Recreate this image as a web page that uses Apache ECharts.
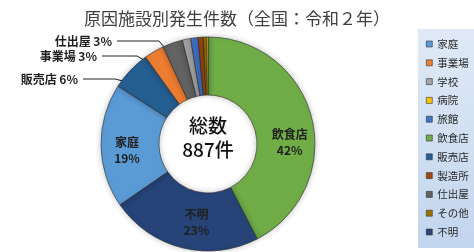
<!DOCTYPE html>
<html>
<head>
<meta charset="utf-8">
<script src="https://cdn.jsdelivr.net/npm/echarts@6/dist/echarts.min.js"></script>
<style>
  html, body { margin: 0; padding: 0; background: #fff; }
  #chart { width: 474px; height: 252px; }
</style>
</head>
<body>
<div id="chart"></div>
<script>
// 原因施設別発生件数（令和2年）
const facilities = ['飲食店', '不明', '家庭', '販売店', '事業場', '仕出屋', '学校', '旅館', '製造所', 'その他', '病院']
const counts = [376, 204, 166, 53, 27, 27, 11, 10, 7, 4, 2]
const legendOrder = ['家庭', '事業場', '学校', '病院', '旅館', '飲食店', '販売店', '製造所', '仕出屋', 'その他', '不明']
const insideLabels = ['飲食店', '不明', '家庭']
const outsideLabels = ['販売店', '事業場', '仕出屋']

const colors = {
  '家庭': '#5b9bd5',
  '事業場': '#ed7d31',
  '学校': '#a5a5a5',
  '病院': '#ffc000',
  '旅館': '#4472c4',
  '飲食店': '#70ad47',
  '販売店': '#255e91',
  '製造所': '#9e480e',
  '仕出屋': '#636363',
  'その他': '#997300',
  '不明': '#264478'
}

// label placement tweaks (layout only)
const insideShift = { '飲食店': [3, 18], '不明': [8, 0], '家庭': [0, 5] }
const outsidePos = {
  '販売店': { x: 78, y: 79, line: 32 },
  '事業場': { x: 97, y: 56, line: 35 },
  '仕出屋': { x: 112, y: 41, line: 42 }
}

const total = counts.reduce((a, b) => a + b, 0)
const font = '"Noto Sans CJK JP", "Noto Sans", sans-serif'
const pieCenter = [208, 144]

const chart = echarts.init(document.getElementById('chart'), null, { renderer: 'canvas' })

const mainData = facilities.map((name, i) => ({
  name: name,
  value: counts[i],
  itemStyle: { color: colors[name] },
  label: { show: insideLabels.includes(name) }
}))
const helperData = facilities.map((name, i) => ({
  name: name,
  value: counts[i],
  label: { show: outsideLabels.includes(name) },
  labelLine: { show: outsideLabels.includes(name) }
}))

const option = {
  animation: false,
  textStyle: { fontFamily: font },
  title: {
    text: '原因施設別発生件数（全国：令和２年）',
    left: 232,
    textAlign: 'center',
    top: 5,
    textStyle: { fontSize: 17, fontWeight: 'normal', color: '#404040', fontFamily: font }
  },
  legend: {
    orient: 'vertical',
    left: 418,
    top: 29,
    data: legendOrder,
    icon: 'rect',
    itemWidth: 6,
    itemHeight: 6,
    itemGap: 6.8,
    padding: [9, 7, 10, 8],
    backgroundColor: {
      type: 'linear', x: 0, y: 0, x2: 0, y2: 1,
      colorStops: [{ offset: 0, color: '#e0eaf6' }, { offset: 1, color: '#c2d5ee' }]
    },
    itemStyle: { borderColor: '#333', borderWidth: 0.6 },
    textStyle: { fontSize: 10.5, lineHeight: 12, color: '#2a2a2a', fontFamily: font },
    selectedMode: false
  },
  graphic: [{
    type: 'text',
    x: pieCenter[0],
    y: pieCenter[1] - 6,
    style: {
      text: '総数\n' + total + '件',
      textAlign: 'center',
      textVerticalAlign: 'middle',
      fontSize: 19,
      lineHeight: 24,
      fontWeight: 500,
      fill: '#111',
      fontFamily: font
    },
    z: 100
  }],
  series: [{
    name: '原因施設',
    type: 'pie',
    center: pieCenter,
    radius: [49, 107],
    startAngle: 90,
    clockwise: true,
    avoidLabelOverlap: false,
    data: mainData,
    itemStyle: {
      borderColor: '#2a2a2a',
      borderWidth: 0.6,
      shadowBlur: 6,
      shadowColor: 'rgba(0,0,0,0.25)'
    },
    label: {
      position: 'inside',
      formatter: p => p.name + '\n' + Math.round(p.percent) + '%',
      fontSize: 12,
      lineHeight: 16,
      fontWeight: 'bold',
      color: '#1f1f1f',
      fontFamily: font
    },
    labelLine: { show: false },
    labelLayout: function (params) {
      const s = insideShift[facilities[params.dataIndex]]
      return s ? { dx: s[0], dy: s[1] } : {}
    },
    emphasis: { disabled: true }
  }, {
    name: 'labels',
    type: 'pie',
    center: pieCenter,
    radius: [0, 82],
    startAngle: 90,
    clockwise: true,
    avoidLabelOverlap: false,
    silent: true,
    data: helperData,
    itemStyle: { color: 'rgba(0,0,0,0)', borderWidth: 0 },
    label: {
      position: 'outside',
      formatter: p => p.name + ' ' + Math.round(p.percent) + '%',
      fontSize: 12,
      fontWeight: 'bold',
      color: '#1f1f1f',
      fontFamily: font
    },
    labelLine: { lineStyle: { color: '#222', width: 1 } },
    labelLayout: function (params) {
      const L = outsidePos[facilities[params.dataIndex]]
      if (!L || !params.labelLinePoints) return {}
      const p = params.labelLinePoints
      return {
        x: L.x,
        y: L.y,
        align: 'right',
        verticalAlign: 'middle',
        labelLinePoints: [p[0], [L.x + 5 + L.line, L.y], [L.x + 5, L.y]]
      }
    },
    emphasis: { disabled: true }
  }]
}

chart.setOption(option)
</script>
</body>
</html>
